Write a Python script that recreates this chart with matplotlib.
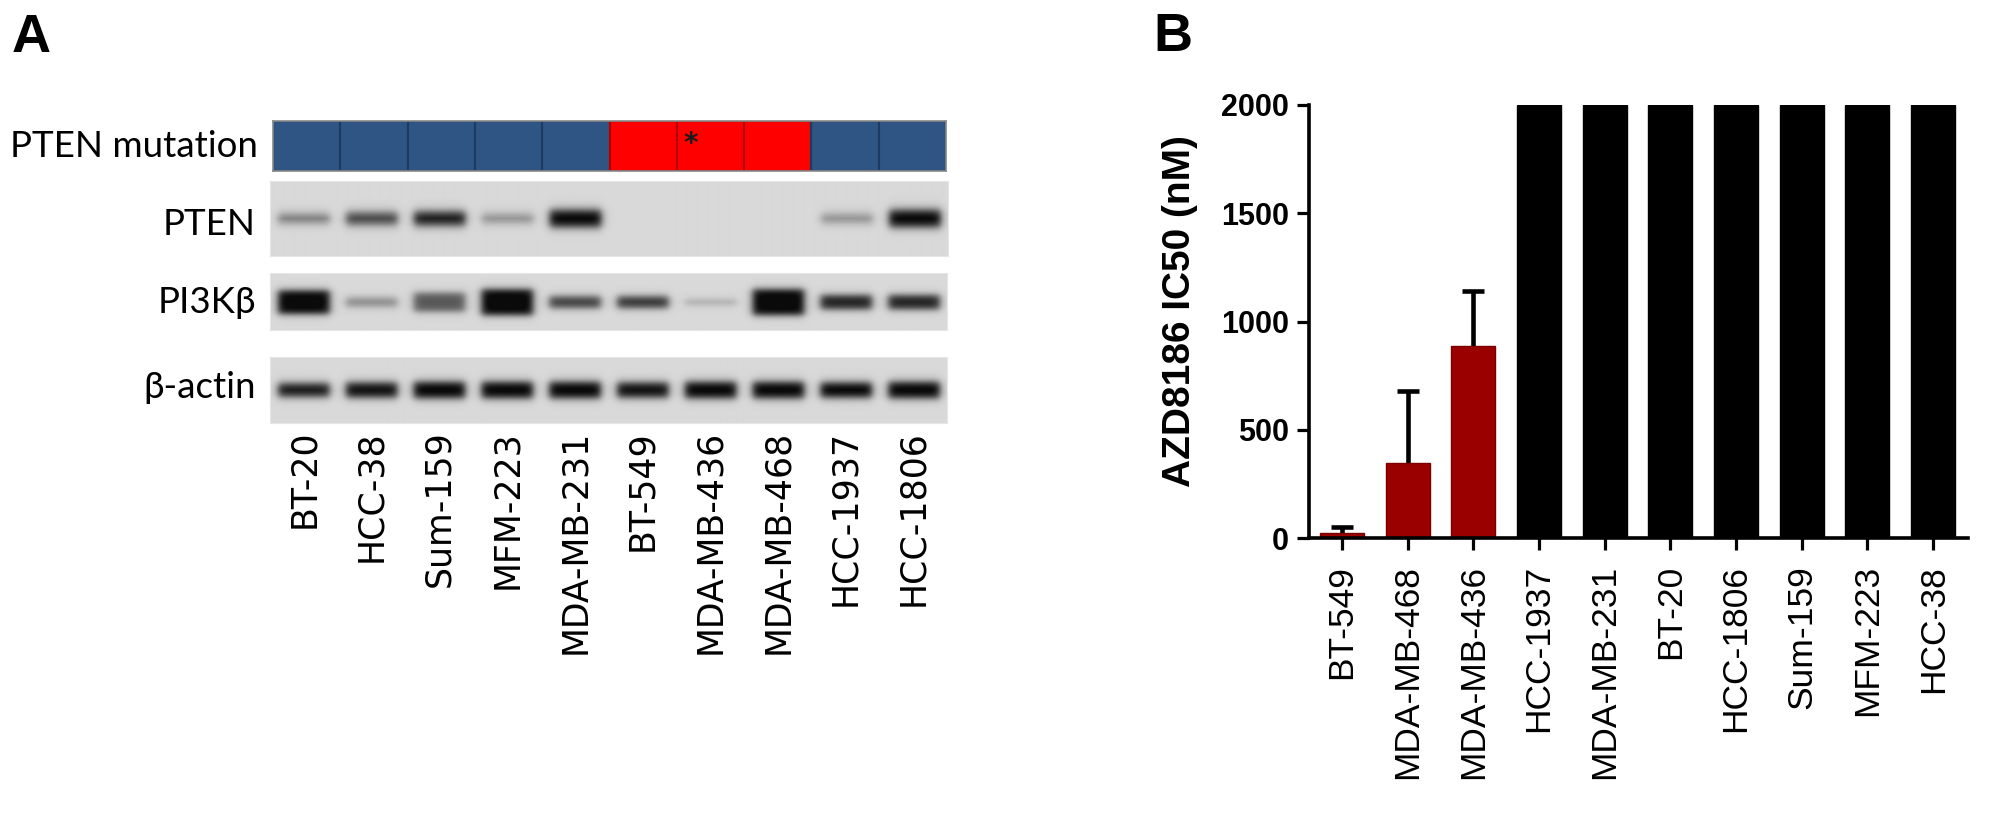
import numpy as np
import matplotlib
matplotlib.use("Agg")
import matplotlib.pyplot as plt
from matplotlib import font_manager

# Panel A: western blot (10 lanes)
lanes_a = ['BT-20', 'HCC-38', 'Sum-159', 'MFM-223', 'MDA-MB-231',
           'BT-549', 'MDA-MB-436', 'MDA-MB-468', 'HCC-1937', 'HCC-1806']
pten_mutant = [0, 0, 0, 0, 0, 1, 1, 1, 0, 0]
# band darkness (0 = none, 1 = saturated) read from the blot
pten_band = [0.45, 0.7, 0.9, 0.35, 1.0, 0.0, 0.0, 0.0, 0.35, 1.0]
pi3kb_band = [1.0, 0.35, 0.6, 1.0, 0.7, 0.75, 0.2, 1.0, 0.85, 0.85]
actin_band = [0.9, 0.95, 1.0, 1.0, 1.0, 0.95, 1.0, 1.0, 1.0, 1.0]
# band half thickness (fraction of strip height)
pten_thick = [0.06, 0.08, 0.09, 0.06, 0.11, 0.05, 0.05, 0.05, 0.06, 0.11]
pi3kb_thick = [0.2, 0.08, 0.16, 0.22, 0.1, 0.1, 0.05, 0.22, 0.12, 0.12]
actin_thick = [0.1, 0.11, 0.12, 0.12, 0.12, 0.11, 0.12, 0.12, 0.11, 0.12]

# Panel B: AZD8186 IC50 (nM)
lines_b = ['BT-549', 'MDA-MB-468', 'MDA-MB-436', 'HCC-1937', 'MDA-MB-231',
           'BT-20', 'HCC-1806', 'Sum-159', 'MFM-223', 'HCC-38']
ic50 = [25, 348, 887, 2000, 2000, 2000, 2000, 2000, 2000, 2000]
ic50_sd = [25, 332, 255, 0, 0, 0, 0, 0, 0, 0]
yticks_b = [0, 500, 1000, 1500, 2000]


def pick_font(names):
    for n in names:
        try:
            font_manager.findfont(n, fallback_to_default=False)
            return n
        except Exception:
            pass
    return 'DejaVu Sans'


arial = pick_font(['Liberation Sans', 'Arial'])
calib = pick_font(['Lato', 'Open Sans'])

W, H = 2000, 824
fig = plt.figure(figsize=(20, 8.24), dpi=100)


def px_axes(x0, y0, x1, y1):
    return fig.add_axes([x0 / W, 1 - y1 / H, (x1 - x0) / W, (y1 - y0) / H])


def blot_img(levels, thick, center, ny, nx=680, bg=0.85):
    x = (np.arange(nx) + 0.5) / nx * len(levels)
    y = (np.arange(ny) + 0.5) / ny
    dark = np.zeros((ny, nx))
    for i, (a, t) in enumerate(zip(levels, thick)):
        px = 1 / (1 + np.exp((np.abs(x - (i + 0.5)) - 0.38) / 0.035))
        py = 1 / (1 + np.exp((np.abs(y - center) - t) / 0.035))
        dark += a * np.outer(py, px)
    dark = np.clip(dark * 1.05, 0, 1)
    return bg * (1 - dark) + 0.04 * dark


# panel letters
fig.text(12 / W, 1 - 52 / H, 'A', fontsize=39, fontweight='bold', family=arial)
fig.text(1153 / W, 1 - 51 / H, 'B', fontsize=39, fontweight='bold', family=arial)

# ---- A: mutation strip
ax_m = px_axes(273, 121, 946, 171)
cols = ['#FF0000' if m else '#2F5584' for m in pten_mutant]
edges = ['#B00000' if m else '#1E3A60' for m in pten_mutant]
ax_m.bar(np.arange(len(lanes_a)) + 0.5, 1, width=1, color=cols, edgecolor=edges, linewidth=1.5)
ax_m.text(6.21, 0.55, '*', ha='center', va='center', fontsize=20, fontweight='bold', color='#1a1a1a')
ax_m.set_xlim(0, len(lanes_a))
ax_m.set_ylim(0, 1)
ax_m.set_xticks([])
ax_m.set_yticks([])
for s in ax_m.spines.values():
    s.set_color('#8a8a8a')
    s.set_linewidth(1.2)

# ---- A: blot strips
strips = [
    ('PTEN', pten_band, pten_thick, 0.5, (270, 181, 948, 256), 235),
    ('PI3K\u03b2', pi3kb_band, pi3kb_thick, 0.52, (270, 273, 947, 330), 313),
    ('\u03b2-actin', actin_band, actin_thick, 0.5, (270, 357, 947, 423), 398),
]
for name, lev, th, c, box, base in strips:
    ax = px_axes(*box)
    ax.imshow(blot_img(lev, th, c, box[3] - box[1]), cmap='gray', vmin=0, vmax=1,
              extent=(0, len(lanes_a), 1, 0), aspect='auto', interpolation='bilinear')
    ax.set_xlim(0, len(lanes_a))
    ax.set_ylim(1, 0)
    ax.set_yticks([])
    ax.set_xticks([])
    for s in ax.spines.values():
        s.set_color('#e6e6e6')
    fig.text(256 / W, 1 - base / H, name, ha='right', va='baseline', fontsize=26.5,
             family=[calib, 'DejaVu Serif'])
    last = ax

fig.text(258 / W, 1 - 157 / H, 'PTEN mutation', ha='right', va='baseline', fontsize=26.5, family=calib)

last.set_xticks(np.arange(len(lanes_a)) + 0.5)
last.set_xticklabels(lanes_a, rotation=90, fontsize=25, family='DejaVu Sans')
last.tick_params(axis='x', length=0, pad=5)

# ---- B: bar chart
ax_b = px_axes(1309, 105, 1968, 538)
xb = np.arange(len(lines_b))
bar_cols = ['#9B0000' if v < 2000 else 'black' for v in ic50]
bar_edges = ['#7A0000' if v < 2000 else 'black' for v in ic50]
ax_b.bar(xb, ic50, width=0.67, color=bar_cols, edgecolor=bar_edges, linewidth=1, zorder=2)
n_err = 3
_, caps, _ = ax_b.errorbar(xb[:n_err], ic50[:n_err], yerr=[np.zeros(n_err), ic50_sd[:n_err]],
                           fmt='none', ecolor='black', elinewidth=3.3, capsize=8, capthick=3.3,
                           zorder=1)
caps[0].set_visible(False)  # only the upper cap is shown
ax_b.set_xlim(-0.5, 9.53)
ax_b.set_ylim(0, 2000)
ax_b.set_yticks(yticks_b)
ax_b.set_yticklabels([str(t) for t in yticks_b], fontsize=22, fontweight='bold', family=arial)
ax_b.set_xticks(xb)
ax_b.set_xticklabels(lines_b, rotation=90, fontsize=25.5, family=arial)
ax_b.tick_params(axis='y', direction='out', length=8.6, width=2.3, pad=6)
ax_b.tick_params(axis='x', direction='out', length=8.6, width=2.3, pad=11)
ax_b.spines['top'].set_visible(False)
ax_b.spines['right'].set_visible(False)
ax_b.spines['left'].set_linewidth(2.6)
ax_b.spines['bottom'].set_linewidth(2.6)
ax_b.spines['left'].set_zorder(3)
ax_b.spines['bottom'].set_zorder(3)
ax_b.set_ylabel('AZD8186 IC50 (nM)', fontsize=28, fontweight='bold', family=arial)
ax_b.yaxis.label.set_va('center')
ax_b.yaxis.set_label_coords(-0.196, 0.525)

fig.savefig('out.png', dpi=100)
